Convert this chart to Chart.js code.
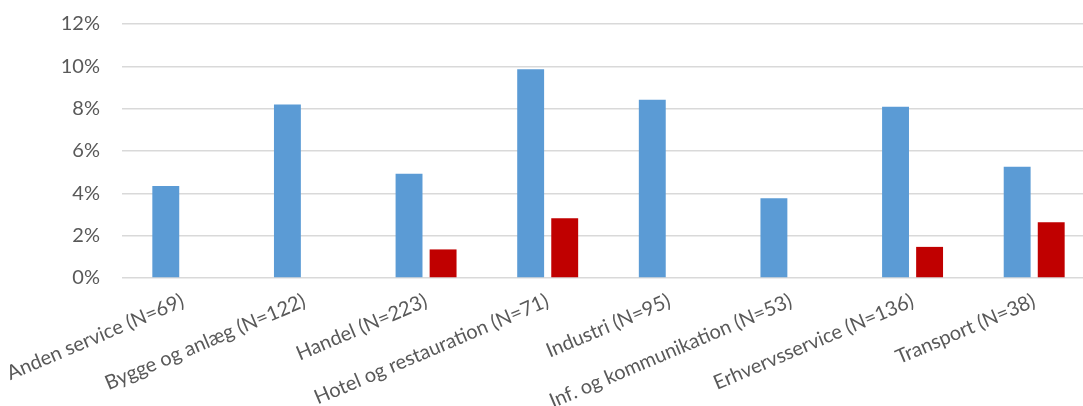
<!DOCTYPE html>
<html>
<head>
<meta charset="utf-8">
<script src="https://cdn.jsdelivr.net/npm/chart.js@4.4.0/dist/chart.umd.min.js"></script>
<style>
    html, body { margin: 0; padding: 0; background: #fff; overflow: hidden; }
    #wrap { width: 1100px; height: 406px; }
</style>
</head>
<body>
<div id="wrap"><canvas id="chart"></canvas></div>
<script>
// brancher og andele (procent)
const categories = [
    'Anden service (N=69)',
    'Bygge og anlæg (N=122)',
    'Handel (N=223)',
    'Hotel og restauration (N=71)',
    'Industri (N=95)',
    'Inf. og kommunikation (N=53)',
    'Erhvervsservice (N=136)',
    'Transport (N=38)'
];
const series1 = [4.35, 8.20, 4.93, 9.86, 8.42, 3.77, 8.09, 5.26];
const series2 = [null, null, 1.35, 2.82, null, null, 1.47, 2.63];
const yTicks = [0, 2, 4, 6, 8, 10, 12];

const textColor = '#595959';
const fontFamily = 'Lato, "Open Sans", sans-serif';

new Chart(document.getElementById('chart'), {
    type: 'bar',
    data: {
        labels: categories,
        datasets: [{
            label: 'Serie1',
            data: series1,
            backgroundColor: '#5B9BD5',
            categoryPercentage: 0.56,
            barPercentage: 0.79
        }, {
            label: 'Serie2',
            data: series2,
            backgroundColor: '#C00000',
            categoryPercentage: 0.56,
            barPercentage: 0.79
        }]
    },
    options: {
        responsive: true,
        maintainAspectRatio: false,
        animation: false,
        layout: { padding: { top: 24, right: 5, left: 0, bottom: 0 } },
        plugins: {
            legend: { display: false },
            tooltip: { enabled: false }
        },
        scales: {
            x: {
                grid: { display: false },
                border: { display: false },
                ticks: {
                    color: textColor,
                    font: { family: fontFamily, size: 20 },
                    minRotation: 23,
                    maxRotation: 23,
                    autoSkip: false,
                    padding: 3
                },
                afterFit: function(scale) {
                    scale.height = 128;
                    scale.paddingTop = 0;
                    scale.paddingBottom = 0;
                    scale.paddingLeft = 0;
                    scale.paddingRight = 0;
                }
            },
            y: {
                min: yTicks[0],
                max: yTicks[yTicks.length - 1],
                afterBuildTicks: function(scale) {
                    scale.ticks = yTicks.map(v => ({ value: v }));
                },
                grid: { color: '#d9d9d9', lineWidth: 1.5, drawTicks: false },
                border: { display: false },
                ticks: {
                    color: textColor,
                    font: { family: fontFamily, size: 20 },
                    padding: 22,
                    callback: v => v + '%'
                },
                afterFit: function(scale) {
                    scale.width = 122;
                    scale.paddingTop = 0;
                    scale.paddingBottom = 0;
                }
            }
        }
    }
});
</script>
</body>
</html>
